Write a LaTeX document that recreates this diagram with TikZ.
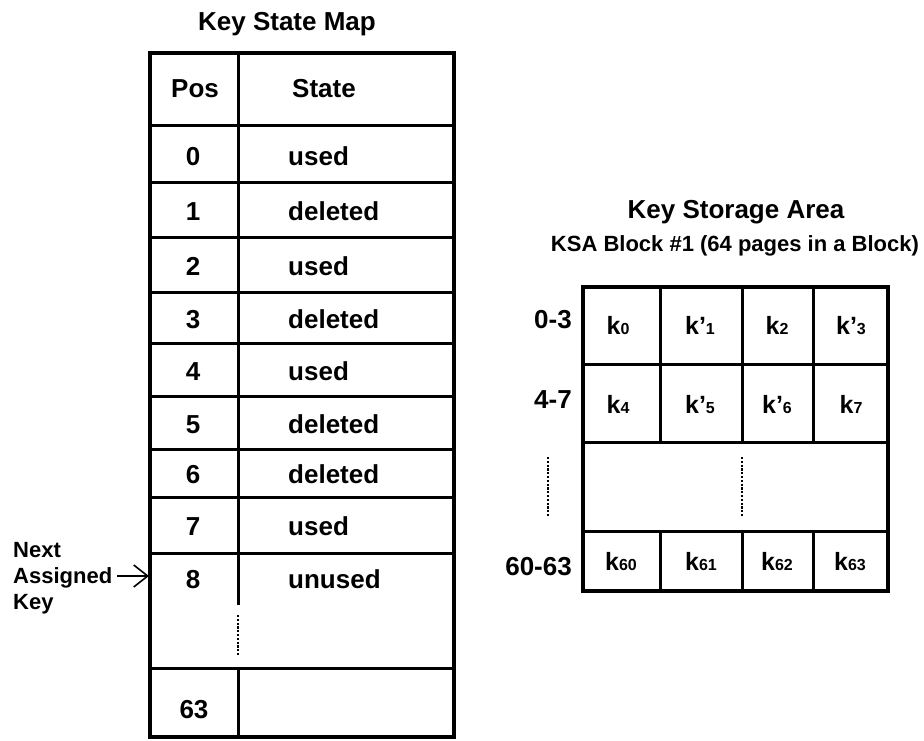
\documentclass[tikz,border=0pt]{standalone}
\usepackage{fontspec}
\setmainfont{Liberation Sans}
\usetikzlibrary{arrows.meta}
\newcommand\ksb[1]{{\fontsize{16}{16}\selectfont #1}}
\begin{document}
\begin{tikzpicture}[x=1pt,y=-1pt,
  txt/.style={font=\bfseries\fontsize{26}{30}\selectfont, inner sep=0pt, anchor=base},
  txtw/.style={txt, anchor=base west},
  txte/.style={txt, anchor=base east},
  kcell/.style={font=\bfseries\fontsize{25}{30}\selectfont, inner sep=0pt, anchor=base},
  small/.style={font=\bfseries\fontsize{22}{26}\selectfont, inner sep=0pt},
  outer/.style={line width=4pt},
  gridline/.style={line width=3pt},
  dots/.style={line width=2.6pt, dash pattern=on 2.2pt off 1.6pt},
  arr/.style={line width=1.6pt, -{Straight Barb[length=14pt,width=22pt,line width=1.6pt]}}
]
\useasboundingbox (0,0) rectangle (924,740);

% ---------------- Key State Map ----------------
\node[txt] (t1) at (287,30) {Key State Map};
\foreach \y in {125,182,237,292,343,396,449,497,553,668}
  \draw[gridline] (150,\y) -- (454,\y);
\draw[gridline] (238,53) -- (238,605);
\draw[dots] (238,615) -- (238,655);
\draw[gridline] (238,668) -- (238,737);
\draw[outer] (150,53) rectangle (454,737);

\node[txt] (posh) at (195,97) {Pos};
\node[txtw] (sth) at (292,97) {State};
\foreach \n/\s/\b in {0/used/165,1/deleted/220,2/used/275,3/deleted/328,4/used/380,5/deleted/433,6/deleted/483,7/used/535,8/unused/588}{
  \node[txt] (p\n) at (193,\b) {\n};
  \node[txtw] (s\n) at (288,\b) {\s};
}
\node[txt] (p63) at (194,718) {63};

\node[small, align=left, anchor=west] (next) at (13,578) {Next\\Assigned\\Key};
\coordinate (r8w) at (149,576);
\draw[arr] ([xshift=5pt]next.east |- r8w) -- (r8w);

% ---------------- Key Storage Area ----------------
\node[txt] (t2) at (736,218) {Key Storage Area};
\node[small, anchor=base] (t3) at (735,251) {KSA Block \#1 (64 pages in a Block)};

\foreach \y in {364,442,531}
  \draw[gridline] (583,\y) -- (888,\y);
\foreach \x in {660,742,813}{
  \draw[gridline] (\x,287) -- (\x,442);
  \draw[gridline] (\x,531) -- (\x,591);
}
\draw[dots] (742,457) -- (742,517);
\draw[dots] (548,457) -- (548,517);
\draw[outer] (583,287) rectangle (888,591);

\node[txte] (r03) at (572,328) {0-3};
\node[txte] (r47) at (572,408) {4-7};
\node[txte] (r6063) at (572,575) {60-63};

\node[kcell] (k0) at (618,334) {k\ksb{0}};
\node[kcell] (k1) at (700,334) {k’\ksb{1}};
\node[kcell] (k2) at (777,334) {k\ksb{2}};
\node[kcell] (k3) at (851,334) {k’\ksb{3}};
\node[kcell] (k4) at (618,413) {k\ksb{4}};
\node[kcell] (k5) at (700,413) {k’\ksb{5}};
\node[kcell] (k6) at (777,413) {k’\ksb{6}};
\node[kcell] (k7) at (851,413) {k\ksb{7}};
\node[kcell] (k60) at (621,570) {k\ksb{60}};
\node[kcell] (k61) at (701,570) {k\ksb{61}};
\node[kcell] (k62) at (777,570) {k\ksb{62}};
\node[kcell] (k63) at (850,570) {k\ksb{63}};
\end{tikzpicture}
\end{document}
